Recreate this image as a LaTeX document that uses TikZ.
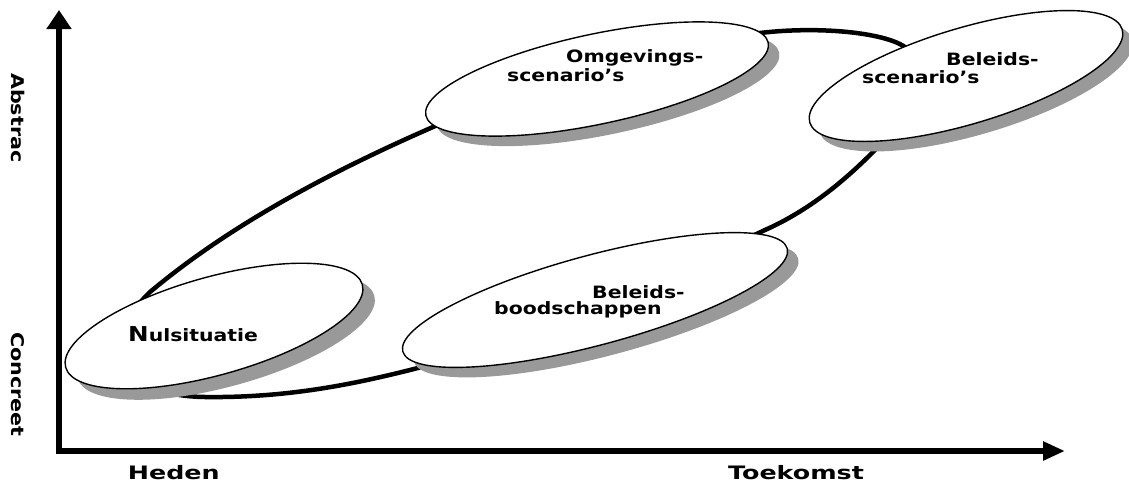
\documentclass[tikz,border=0pt]{standalone}
\usepackage{fontspec}
\usetikzlibrary{shapes.geometric,arrows.meta}
\newfontfamily\fA[FakeStretch=1.2]{DejaVu Sans}
\newfontfamily\fB[FakeStretch=1.37]{DejaVu Sans}
\newfontfamily\fC[FakeStretch=1.18]{DejaVu Sans}
\begin{document}
\begin{tikzpicture}[x=1pt,y=-1pt,
  axis/.style={line width=6pt},
  loopline/.style={line width=4.5pt},
  ell/.style={ellipse, draw=black, line width=1.4pt, fill=white, inner sep=0pt},
  shad/.style={ellipse, fill=black!40, draw=none, inner sep=0pt},
  etext/.style={inner sep=0pt, anchor=base west, font=\fA\bfseries\fontsize{17}{17}\selectfont},
  atext/.style={inner sep=0pt, anchor=base west, font=\fB\bfseries\fontsize{18.5}{18.5}\selectfont},
  vtext/.style={inner sep=0pt, anchor=base west, rotate=-90, font=\fC\bfseries\fontsize{17.5}{17.5}\selectfont}]
\useasboundingbox (0,0) rectangle (1129,483);
% axes
\coordinate (vb) at (59,454);
\coordinate (vt) at (59,10);
\coordinate (hb) at (56,451);
\coordinate (ht) at (1065,451);
\draw[axis,-{Triangle[length=19pt,width=24pt]}] (vb) -- (vt);
\draw[axis,-{Triangle[length=22pt,width=18pt]}] (hb) -- (ht);
% big loop
\draw[loopline] (205,397) .. controls (285,398) and (350,385) .. (410,370)
  .. controls (530,340) and (680,270) .. (765,230)
  .. controls (810,210) and (845,180) .. (873,152)
  .. controls (905,120) and (935,70) .. (905,47)
  .. controls (880,30) and (800,25) .. (740,36)
  .. controls (640,50) and (520,90) .. (433,127)
  .. controls (330,172) and (230,225) .. (150,292)
  .. controls (95,345) and (120,396) .. (205,397) -- cycle;
% shadows
\node[shad, minimum width=308pt, minimum height=98pt, rotate=15.6] (nulS) at (226,337) {};
\node[shad, minimum width=350pt, minimum height=90pt, rotate=12] (omgS) at (608,89) {};
\node[shad, minimum width=326pt, minimum height=96pt, rotate=16.6] (bscS) at (976,86) {};
\node[shad, minimum width=398pt, minimum height=90pt, rotate=15] (bboS) at (606,310) {};
% ellipses
\node[ell, minimum width=308pt, minimum height=98pt, rotate=15.6] (nul) at (214,326) {};
\node[ell, minimum width=350pt, minimum height=90pt, rotate=12] (omg) at (597,79) {};
\node[ell, minimum width=326pt, minimum height=96pt, rotate=16.6] (bsc) at (966,76) {};
\node[ell, minimum width=398pt, minimum height=90pt, rotate=15] (bbo) at (595,300) {};
% texts
\node[etext] (om1) at (566,62.7) {Omgevings-};
\node[etext] (om2) at (507,81) {scenario’s};
\node[etext] (bs1) at (946,65) {Beleids-};
\node[etext] (bs2) at (862,83.3) {scenario’s};
\node[etext] (nult) at (128,341.7) {{\fontsize{20.5}{20.5}\selectfont N}ulsituatie};
\node[etext] (bb1) at (592,298) {Beleids-};
\node[etext] (bb2) at (494,314.5) {boodschappen};
\node[atext] (heden) at (127.7,479) {Heden};
\node[atext] (toek) at (728,479) {Toekomst};
\node[vtext] (abs) at (12,73) {Abstrac};
\node[vtext] (con) at (12,332) {Concreet};
\end{tikzpicture}
\end{document}
